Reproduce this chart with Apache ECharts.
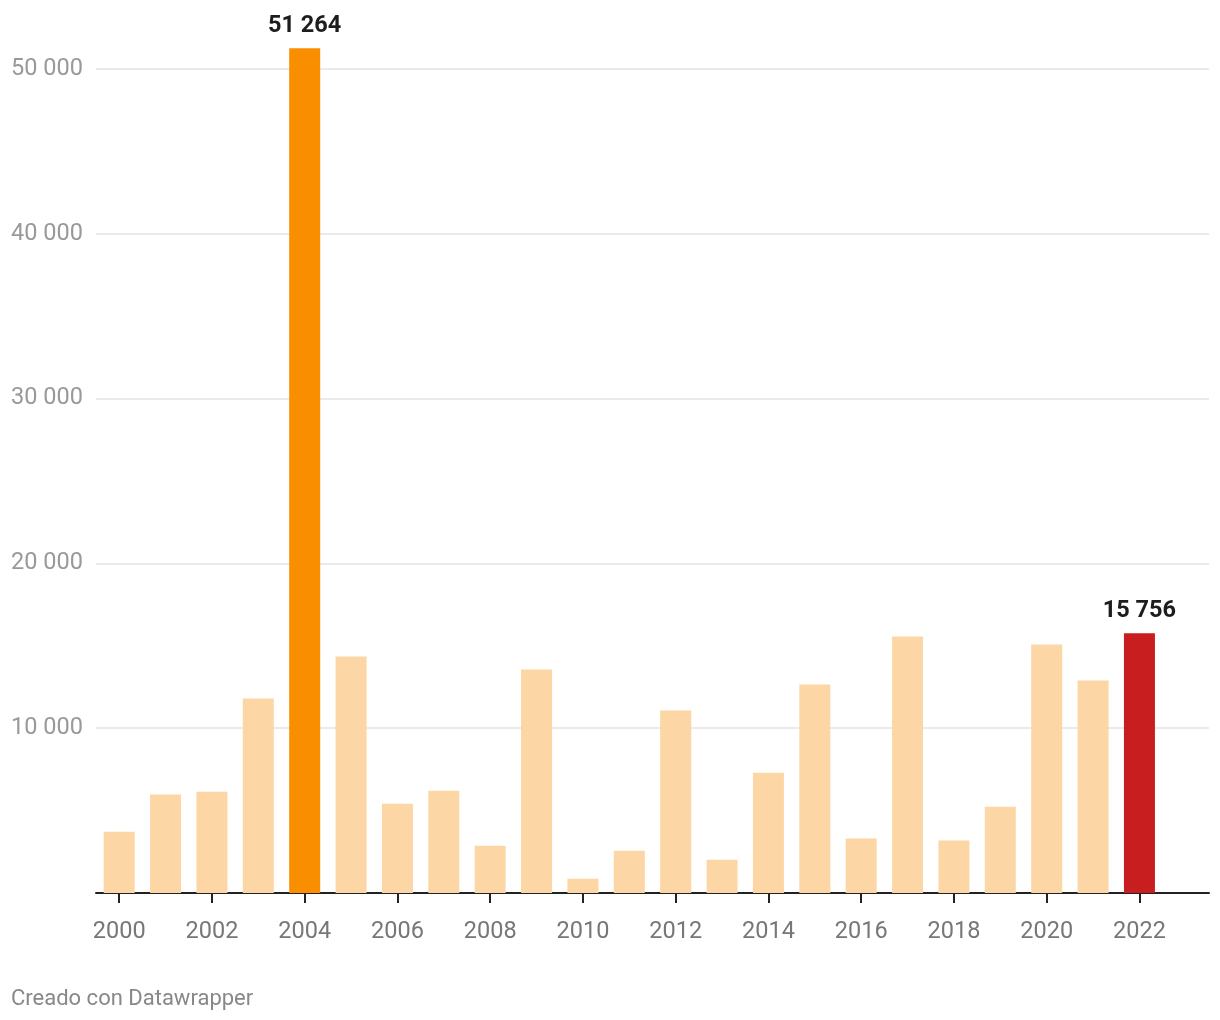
<!DOCTYPE html>
<html>
<head>
<meta charset="utf-8">
<script src="https://cdn.jsdelivr.net/npm/echarts@6/dist/echarts.min.js"></script>
<style>
html,body{margin:0;padding:0;background:#fff;}
#chart{width:1220px;height:1020px;}
#foot{position:absolute;left:11px;top:985px;font-family:Roboto,sans-serif;font-size:22px;color:#888;}
</style>
</head>
<body>
<div id="chart"></div>
<div id="foot">Creado con Datawrapper</div>
<script>
// axis categories (2023 slot is empty space on the axis)
const years = ['2000','2001','2002','2003','2004','2005','2006','2007','2008','2009','2010','2011','2012','2013','2014','2015','2016','2017','2018','2019','2020','2021','2022','2023'];
const values = [3720, 5970, 6150, 11800, 51264, 14350, 5420, 6210, 2870, 13560, 870, 2570, 11070, 2020, 7300, 12650, 3300, 15560, 3180, 5240, 15080, 12890, 15756];
const yTicks = [0, 10000, 20000, 30000, 40000, 50000];
const highlight = {'2004': '#f98e00', '2022': '#c81e1f'};
const baseColor = '#fdd6a5';

function fmt(v){ return String(v).replace(/\B(?=(\d{3})+(?!\d))/g, ' '); }

const chart = echarts.init(document.getElementById('chart'));
chart.setOption({
  animation: false,
  textStyle: {fontFamily: 'Roboto'},
  grid: {left: 96, right: 11, top: 69, bottom: 127},
  xAxis: {
    type: 'category',
    data: years,
    boundaryGap: true,
    axisLine: {lineStyle: {color: '#222', width: 2}},
    axisTick: {show: true, alignWithLabel: true, interval: 1, length: 10, lineStyle: {color: '#222', width: 2}},
    axisLabel: {interval: 1, color: '#777', fontSize: 23.5, margin: 27, fontFamily: 'Roboto'},
    splitLine: {show: false}
  },
  yAxis: {
    type: 'value',
    min: yTicks[0],
    max: yTicks[yTicks.length - 1],
    interval: yTicks[1] - yTicks[0],
    axisLine: {show: false},
    axisTick: {show: false},
    axisLabel: {
      color: '#999', fontSize: 23.5, align: 'left', margin: 85, fontFamily: 'Roboto',
      formatter: v => v === 0 ? '' : fmt(v)
    },
    splitLine: {lineStyle: {color: '#e3e3e3', width: 1.5}}
  },
  series: [{
    type: 'bar',
    clip: false,
    barWidth: 31,
    data: values.map((v, i) => ({
      value: v,
      itemStyle: {color: highlight[years[i]] || baseColor},
      label: highlight[years[i]] ? {
        show: true, position: 'top', distance: 10,
        formatter: p => fmt(p.value),
        color: '#1d1d1d', fontSize: 23.5, fontWeight: 'bold', fontFamily: 'Roboto'
      } : {show: false}
    }))
  }]
});
</script>
</body>
</html>
